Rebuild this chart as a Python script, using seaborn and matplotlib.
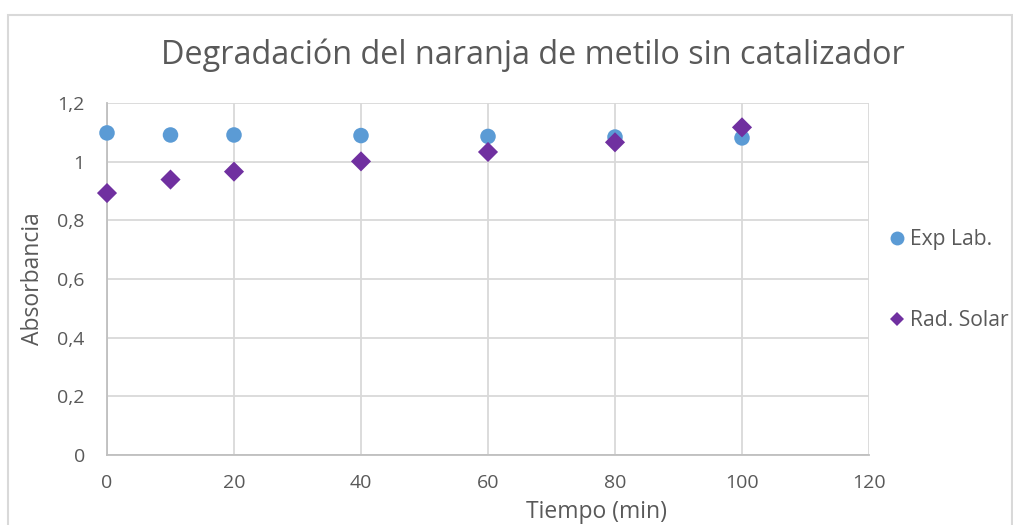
import matplotlib
matplotlib.use("Agg")
import matplotlib.pyplot as plt
from matplotlib.patches import Rectangle
from matplotlib.lines import Line2D
from matplotlib.ticker import FuncFormatter, MultipleLocator
import seaborn as sns
import pandas as pd

# Absorbance readings over time
tiempo_lab = [0, 10, 20, 40, 60, 80, 100]
abs_lab = [1.098, 1.091, 1.091, 1.089, 1.086, 1.084, 1.081]
tiempo_solar = [0, 10, 20, 40, 60, 80, 100]
abs_solar = [0.893, 0.939, 0.966, 1.001, 1.033, 1.066, 1.117]
series_names = ["Exp Lab.", "Rad. Solar"]

df = pd.concat([
    pd.DataFrame({"Tiempo": tiempo_lab, "Absorbancia": abs_lab, "Serie": series_names[0]}),
    pd.DataFrame({"Tiempo": tiempo_solar, "Absorbancia": abs_solar, "Serie": series_names[1]}),
], ignore_index=True)

sns.set_theme(style="white")
plt.rcParams["font.family"] = ["Open Sans", "DejaVu Sans"]

text_color = "#595959"
grid_color = "#D9D9D9"
colors = {"Exp Lab.": "#5B9BD5", "Rad. Solar": "#7030A0"}
markers = {"Exp Lab.": "o", "Rad. Solar": "D"}

W, H = 1013, 525
fig = plt.figure(figsize=(W / 100, H / 100), dpi=100)
ax = fig.add_axes([107 / W, 1 - 455 / H, (869 - 107) / W, (455 - 103) / H])

# chart border
fig.patches.append(Rectangle((7.5 / W, -0.05), (1011.5 - 7.5) / W, 1 - 14.5 / H + 0.05,
                             transform=fig.transFigure, fill=False,
                             edgecolor=grid_color, linewidth=1.5, zorder=0))

sizes = {"Exp Lab.": 125, "Rad. Solar": 105}
for name in series_names:
    sub = df[df["Serie"] == name]
    sns.scatterplot(data=sub, x="Tiempo", y="Absorbancia", ax=ax,
                    color=colors[name], marker=markers[name], s=sizes[name],
                    edgecolor="none", linewidth=0, zorder=3, clip_on=False, legend=False)

ax.set_xlim(0, 120)
ax.set_ylim(0, 1.2)
ax.xaxis.set_major_locator(MultipleLocator(20))
ax.yaxis.set_major_locator(MultipleLocator(0.2))


def comma_fmt(v, pos):
    s = f"{v:.1f}".rstrip("0").rstrip(".")
    return s.replace(".", ",")


ax.yaxis.set_major_formatter(FuncFormatter(comma_fmt))
ax.xaxis.set_major_formatter(FuncFormatter(lambda v, p: f"{int(round(v))}"))

ax.grid(True, color=grid_color, linewidth=1.3, zorder=0)
ax.set_axisbelow(True)
for side in ["top", "right"]:
    ax.spines[side].set_visible(False)
for side in ["left", "bottom"]:
    ax.spines[side].set_color("#BFBFBF")
    ax.spines[side].set_linewidth(1.3)

ax.tick_params(axis="both", length=0, labelsize=14, colors=text_color)
ax.tick_params(axis="x", pad=14)
ax.tick_params(axis="y", pad=16)

ax.set_xlabel("Tiempo (min)", fontsize=16.5, color=text_color)
ax.set_ylabel("Absorbancia", fontsize=16.5, color=text_color)
ax.xaxis.set_label_coords(489 / 762, -(512 - 455) / 352, transform=ax.transAxes)
ax.yaxis.set_label_coords(-(107 - 33) / 762, 0.5, transform=ax.transAxes)
ax.xaxis.label.set_va("center")
ax.yaxis.label.set_va("center")

fig.text(533 / W, 1 - 55 / H, "Degradación del naranja de metilo sin catalizador",
         ha="center", va="center", fontsize=23.3, color=text_color)

handles = [
    Line2D([], [], linestyle="none", marker="o", markersize=10, color=colors["Exp Lab."], markeredgewidth=0),
    Line2D([], [], linestyle="none", marker="D", markersize=7, color=colors["Rad. Solar"], markeredgewidth=0),
]
leg = fig.legend(handles, series_names, loc="center left", bbox_to_anchor=(883 / W, 1 - 280 / H),
                 frameon=False, fontsize=15.2, labelspacing=2.85, handletextpad=0.0,
                 handlelength=1.3, labelcolor=text_color, borderaxespad=0, borderpad=0)

fig.savefig("out.png", dpi=100, facecolor="white")
